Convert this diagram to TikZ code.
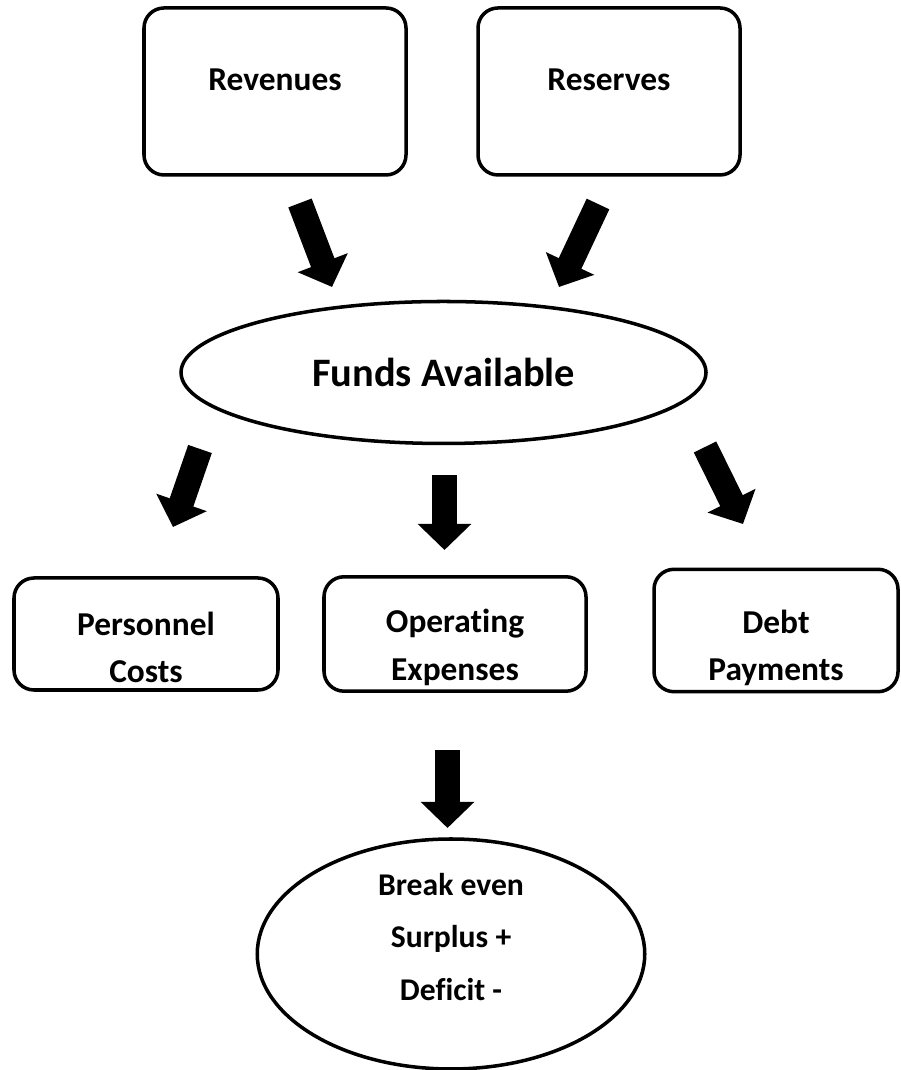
\documentclass[tikz,border=0pt]{standalone}
\usepackage{tkz-euclide}
\usepackage{fontspec}
\setmainfont{Carlito}[Ligatures=NoCommon]
\usetikzlibrary{arrows.meta,shapes.geometric}
\tikzset{>=stealth}
\tikzset{
  box/.style={draw, line width=2pt, rounded corners=0.4cm, minimum width=5.24cm,
    minimum height=2.24cm, align=center, font=\fontsize{19}{27}\selectfont\bfseries},
  oval/.style={draw, ellipse, line width=2pt, inner sep=0pt, align=center},
  fat/.style={line width=0.5cm, -{Triangle[length=0.52cm,width=1.04cm]}}
}

\begin{document}
\begin{tikzpicture}
\useasboundingbox (0,0) rectangle (18,21.4);
\node[box, minimum height=3.34cm] (rev) at (5.50,19.57) {Revenues\rule[-0.48cm]{0pt}{0.48cm}};
\node[box, minimum height=3.34cm] (res) at (12.18,19.57) {Reserves\rule[-0.48cm]{0pt}{0.48cm}};
\node[oval, minimum width=10.5cm, minimum height=2.84cm,
  font=\fontsize{23}{28}\selectfont\bfseries] (funds) at (8.87,13.95) {Funds Available};
\node[box, minimum width=5.28cm] (pers) at (2.92,8.72) {\rule{0pt}{1.0cm}Personnel\\Costs};
\node[box] (oper) at (9.10,8.72) {\rule{0pt}{1.0cm}Operating\\Expenses};
\node[box, minimum width=4.88cm, minimum height=2.30cm] (debt) at (15.52,8.79)
  {\rule{0pt}{1.16cm}Debt\\Payments};
\node[oval, minimum width=7.75cm, minimum height=4.6cm,
  label={[align=center, yshift=0.34cm, font=\fontsize{18}{29.8}\selectfont\bfseries]center:
  Break even\\Surplus +\\Deficit -}] (result) at (9.02,2.32) {};
% block arrows
\tkzDefPoints{6.00/17.34/A, 6.64/15.66/B, 11.96/17.32/C, 11.18/15.66/D}
\tkzDefPoints{4.00/12.42/E, 3.46/10.86/F, 8.89/11.90/G, 8.89/10.40/H}
\tkzDefPoints{14.10/12.46/I, 14.86/10.92/J, 8.95/6.40/K, 8.95/4.84/L}
\draw[fat] (A) -- (B);
\draw[fat] (C) -- (D);
\draw[fat] (E) -- (F);
\draw[fat] (G) -- (H);
\draw[fat] (I) -- (J);
\draw[fat] (K) -- (L);
\end{tikzpicture}
\end{document}
